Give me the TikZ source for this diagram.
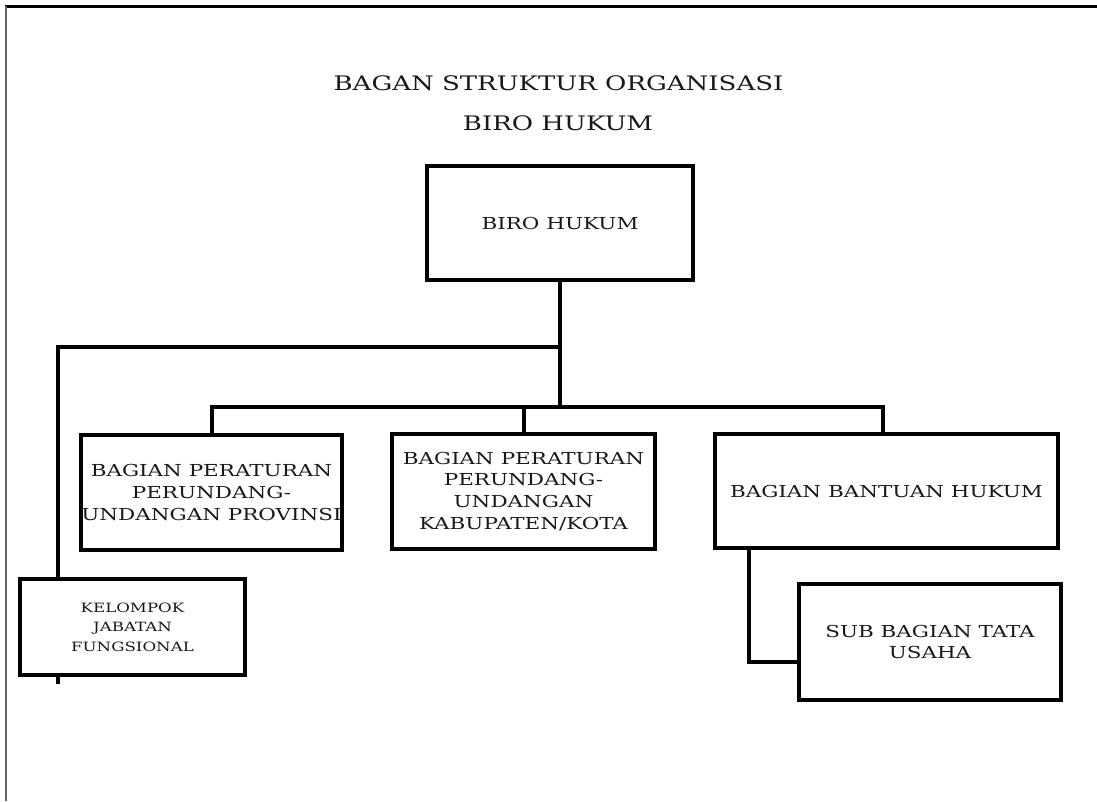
\documentclass[tikz,border=0pt]{standalone}
\usepackage{fontspec}
\setmainfont{DejaVu Serif}[FakeStretch=1.3]
\begin{document}
\begin{tikzpicture}[x=1pt,y=-1pt,
  orgbox/.style={draw=black,line width=4.5pt,fill=white,align=center,inner sep=0pt,text=black!90},
  conn/.style={line width=4pt,line cap=rect},
  boxfont/.style={font=\fontsize{16.5}{21.8}\selectfont},
  smallfont/.style={font=\fontsize{12.8}{19.5}\selectfont},
  titlefont/.style={font=\fontsize{20}{40}\selectfont}]
\useasboundingbox (0,0) rectangle (1097,801);
% frame
\draw[line width=3pt] (5,6) -- (1097,6);
\draw[black!60,line width=2pt] (6,6) -- (6,801);
% title
\node[titlefont,text=black!90] (t1) at (558.5,83) {BAGAN STRUKTUR ORGANISASI};
\node[titlefont,text=black!90] (t2) at (558,123) {BIRO HUKUM};
% junction coordinates
\coordinate (j0) at (560,347);
\coordinate (kc) at (58,347);
\coordinate (kb) at (58,682);
\coordinate (hl) at (211.5,407);
\coordinate (hm) at (560,407);
\coordinate (hr) at (883,407);
\coordinate (s1) at (749,662);
% box outlines (placement only)
\path (560,223) node[orgbox,draw=none,minimum width=266,minimum height=114] (top) {};
\path (211.5,492.5) node[orgbox,draw=none,minimum width=261,minimum height=115] (b1) {};
\path (523.5,491.5) node[orgbox,draw=none,minimum width=263,minimum height=115] (b2) {};
\path (886.5,491) node[orgbox,draw=none,minimum width=343,minimum height=114] (b3) {};
\path (930,642) node[orgbox,draw=none,minimum width=262,minimum height=116] (sub) {};
\path (132.5,627) node[orgbox,draw=none,minimum width=225,minimum height=96] (kjf) {};
% connectors
\draw[conn] (top.south) -- (hm);
\draw[conn] (j0) -- (kc) -- (kb);
\draw[conn] (hl) -- (hr);
\draw[conn] (hl) -- (hl |- b1.north);
\draw[conn] (b2.north |- hm) -- (b2.north);
\draw[conn] (hr) -- (hr |- b3.north);
\draw[conn] (b3.south -| s1) -- (s1) -- (sub.west |- s1);
% boxes drawn on top
\node[orgbox,minimum width=266,minimum height=114,boxfont] (topd) at (top) {BIRO HUKUM};
\node[orgbox,minimum width=261,minimum height=115,boxfont] (b1d) at (b1) {BAGIAN PERATURAN\\PERUNDANG-\\UNDANGAN PROVINSI};
\node[orgbox,minimum width=263,minimum height=115,boxfont] (b2d) at (b2) {BAGIAN PERATURAN\\PERUNDANG-\\UNDANGAN\\KABUPATEN/KOTA};
\node[orgbox,minimum width=343,minimum height=114,boxfont] (b3d) at (b3) {BAGIAN BANTUAN HUKUM};
\node[orgbox,minimum width=262,minimum height=116,boxfont] (subd) at (sub) {SUB BAGIAN TATA\\USAHA};
\node[orgbox,minimum width=225,minimum height=96,smallfont] (kjfd) at (kjf) {KELOMPOK\\JABATAN\\FUNGSIONAL};
\end{tikzpicture}
\end{document}
